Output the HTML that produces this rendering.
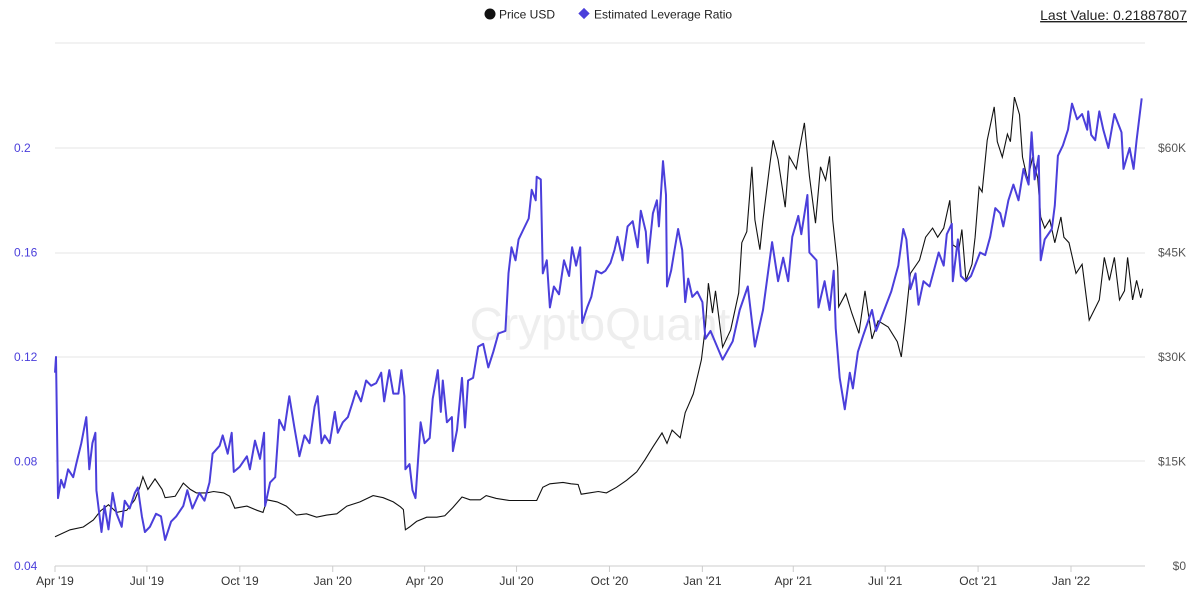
<!DOCTYPE html>
<html><head><meta charset="utf-8"><style>
body{margin:0;background:#fff;font-family:"Liberation Sans",sans-serif;}
svg text{font-family:"Liberation Sans",sans-serif;}
</style></head><body>
<svg id="chart" width="1200" height="600" xmlns="http://www.w3.org/2000/svg">
<text x="600" y="340" font-size="46" fill="#eee" text-anchor="middle">CryptoQuant</text>
<g id="grid"></g><g id="axes"></g><g id="lines"></g>
<g>
<circle cx="490" cy="14" r="5.5" fill="#111"/>
<text x="499" y="18.5" font-size="12" fill="#222">Price USD</text>
<rect x="580" y="9.5" width="8" height="8" fill="#4b3fdb" transform="rotate(45 584 13.5)"/>
<text x="594" y="18.5" font-size="12" fill="#222">Estimated Leverage Ratio</text>
</g>
<text x="1187" y="20" font-size="14" fill="#222" text-anchor="end" text-decoration="underline">Last Value: 0.21887807</text>
</svg>
<script>
// days since 2019-04-01
const levDays=[0,1,3,6,9,13,18,21,26,31,34,37,40,41,46,49,53,57,61,66,69,74,79,82,86,89,94,100,105,109,115,120,127,131,136,143,148,153,156,163,166,171,175,177,183,190,193,198,203,207,208,213,218,222,227,232,237,242,247,252,257,260,264,267,272,277,280,285,290,295,298,303,308,313,318,323,326,331,335,340,343,346,
347,351,354,357,362,366,371,374,379,382,384,388,393,394,398,403,406,409,414,419,424,429,434,439,446,449,452,456,459,464,469,472,476,477,481,483,487,490,494,499,504,509,512,516,520,522,527,531,536,541,545,550,554,557,562,567,572,577,580,585,587,592,596,598,602,605,606,610,613,617,621,624,627,631,636,641,644,649,
661,671,678,686,693,701,710,716,721,726,730,736,739,745,747,754,756,762,767,771,773,777,782,787,790,795,800,809,813,822,828,835,840,843,845,847,852,855,860,866,875,880,883,888,889,894,897,902,907,916,921,926,931,936,939,944,949,954,959,964,967,970,974,976,980,987,990,993,998,1003,1007,1012,1017,1022,1023,1026,1030,1034,1038,1043,1049,1056,1058,1064,1068,1071,1076];
const levValues=[0.114,0.12,0.066,0.073,0.070,0.077,0.074,0.079,0.087,0.097,0.077,0.087,0.091,0.069,0.053,0.063,0.054,0.068,0.060,0.055,0.065,0.062,0.068,0.070,0.059,0.053,0.055,0.060,0.059,0.050,0.057,0.059,0.063,0.069,0.062,0.068,0.065,0.072,0.083,0.086,0.090,0.083,0.091,0.076,0.078,0.082,0.077,0.088,0.081,0.091,0.063,0.072,0.074,0.096,0.092,0.105,0.093,0.082,0.090,0.087,0.101,0.105,0.087,0.090,0.087,0.099,0.091,0.095,0.097,0.103,0.107,0.103,0.111,0.109,0.110,0.114,0.103,0.115,0.106,0.106,0.115,0.105,
0.077,0.079,0.069,0.066,0.095,0.087,0.089,0.104,0.115,0.099,0.111,0.095,0.097,0.084,0.092,0.112,0.093,0.111,0.112,0.124,0.125,0.116,0.122,0.129,0.13,0.152,0.162,0.157,0.165,0.169,0.173,0.184,0.180,0.189,0.188,0.152,0.157,0.139,0.147,0.144,0.157,0.151,0.162,0.155,0.162,0.133,0.139,0.143,0.153,0.152,0.153,0.156,0.161,0.166,0.157,0.170,0.172,0.162,0.176,0.168,0.156,0.175,0.180,0.170,0.195,0.182,0.147,0.153,0.160,0.169,0.161,0.141,0.150,0.143,0.145,0.141,0.127,0.13,
0.119,0.126,0.138,0.147,0.124,0.138,0.164,0.149,0.158,0.149,0.166,0.174,0.167,0.182,0.16,0.157,0.139,0.149,0.138,0.153,0.131,0.112,0.100,0.114,0.108,0.122,0.128,0.138,0.130,0.139,0.145,0.155,0.169,0.165,0.156,0.146,0.152,0.140,0.149,0.147,0.160,0.155,0.167,0.171,0.149,0.165,0.151,0.149,0.151,0.160,0.159,0.166,0.177,0.175,0.170,0.180,0.186,0.180,0.192,0.186,0.206,0.188,0.197,0.157,0.165,0.169,0.178,0.197,0.201,0.207,0.217,0.211,0.213,0.207,0.214,0.205,0.203,0.214,0.207,0.200,0.213,0.206,0.192,0.200,0.192,0.203,0.219];
const priceDays=[0,15,28,38,45,53,61,71,79,84,87,92,99,106,109,119,127,134,140,150,157,167,173,178,190,200,206,210,220,229,239,249,259,269,279,289,302,315,325,335,342,
345,347,351,358,368,378,386,394,403,411,421,427,437,450,464,477,483,490,503,511,518,521,529,538,546,556,566,576,584,592,601,606,611,619,624,627,632,637,640,644,647,
651,654,661,669,677,680,685,690,693,698,701,708,711,716,723,727,734,737,742,747,753,758,763,767,770,775,776,783,789,796,802,809,815,825,834,838,842,847,856,862,869,874,880,886,889,895,898,902,908,911,915,918,923,930,933,938,943,946,950,955,958,963,968,973,976,980,985,990,996,999,1004,1011,1017,1024,1034,1039,1044,1049,1054,1059,1062,1067,1071,1075,1077];
const priceValues=[4200,5200,5600,6600,7900,8800,7700,8000,9500,11300,12800,11000,12500,11000,9800,10000,11900,11000,10500,10500,10700,10500,10000,8300,8600,8000,7700,9500,9200,8600,7300,7500,7000,7300,7500,8600,9200,10100,9800,9200,8500,
8100,5200,5600,6400,7000,7000,7200,8400,9900,9500,9500,10100,9700,9400,9400,9400,11300,11800,12000,11800,11700,10300,10500,10700,10500,11300,12300,13500,15200,17100,19100,17600,19500,18400,22000,23000,24700,27700,29600,34300,40600,
36300,39500,31400,33900,39200,46400,48000,57300,49700,45400,49700,57800,61100,58300,51500,58800,57000,59700,63600,56000,49200,57300,55400,58800,49700,42900,37200,39100,36300,33400,39500,32600,35200,34300,32200,30000,35200,42000,43900,47200,48500,47200,48500,52500,46100,45500,48300,41000,43300,47200,54400,53700,61100,65900,60900,58700,62000,60900,67300,64800,58700,55400,58700,55700,50100,48500,49700,46400,50100,47200,46400,42000,43300,35300,38200,44300,41000,44300,38200,39500,44300,38200,41000,38500,39800];
const levTicks=[0.04,0.08,0.12,0.16,0.2];
const priceTicks=[0,15000,30000,45000,60000];
const priceTickLabels=["$0","$15K","$30K","$45K","$60K"];
const xTickDays=[0,91,183,275,366,457,549,641,731,822,914,1006];
const xTickLabels=["Apr '19","Jul '19","Oct '19","Jan '20","Apr '20","Jul '20","Oct '20","Jan '21","Apr '21","Jul '21","Oct '21","Jan '22"];

const NS="http://www.w3.org/2000/svg";
function xs(d){return 55+d*1016/1006;}
function yl(v){return 566-(v-0.04)/0.04*104.5;}
function yp(v){return 566-v/15000*104.5;}
function mk(tag,attrs,parent){const e=document.createElementNS(NS,tag);for(const k in attrs)e.setAttribute(k,attrs[k]);parent.appendChild(e);return e;}
const grid=document.getElementById('grid'),axes=document.getElementById('axes'),lines=document.getElementById('lines');
[43,148,253,357,461].forEach(y=>{const l=mk('line',{x1:55,x2:1145,y1:y,y2:y,stroke:'#e6e6e6'},grid);

});
const base=mk('line',{x1:55,x2:1145,y1:566,y2:566,stroke:'#ccc'},grid);


levTicks.forEach(v=>{const t=mk('text',{x:14,y:yl(v)+4,'font-size':12,fill:'#4b3fdb'},axes);t.textContent=String(v);

});
priceTicks.forEach((v,i)=>{const t=mk('text',{x:1186,y:yp(v)+4,'font-size':12,fill:'#555','text-anchor':'end'},axes);t.textContent=priceTickLabels[i];

});
xTickDays.forEach((d,i)=>{const x=xs(d);mk('line',{x1:x,x2:x,y1:566,y2:572,stroke:'#ccc'},axes);
const t=mk('text',{x:x,y:585,'font-size':12,fill:'#333','text-anchor':'middle'},axes);t.textContent=xTickLabels[i];

});
const pp=mk('path',{d:priceDays.map((d,i)=>(i?'L':'M')+xs(d).toFixed(1)+','+yp(priceValues[i]).toFixed(1)).join(''),fill:'none',stroke:'#111','stroke-width':1.1},lines);


const lp=mk('path',{d:levDays.map((d,i)=>(i?'L':'M')+xs(d).toFixed(1)+','+yl(levValues[i]).toFixed(1)).join(''),fill:'none',stroke:'#4b3fdb','stroke-width':2,'stroke-linejoin':'round'},lines);


</script>
</body></html>
